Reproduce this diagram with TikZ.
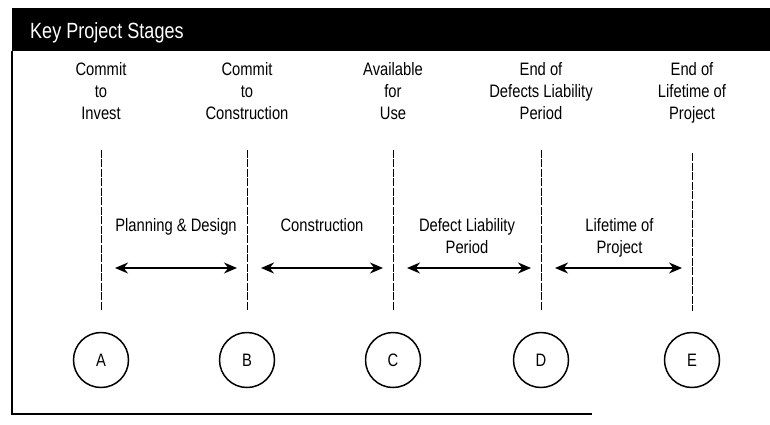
\documentclass[tikz,border=0pt]{standalone}
\usepackage{fontspec}
\setmainfont{Liberation Sans}[FakeStretch=0.82]
\usetikzlibrary{positioning,arrows.meta}

\tikzset{
  stage/.style={circle, draw, line width=1.5pt, minimum size=55pt, inner sep=0pt,
    font=\fontsize{18}{22}\selectfont},
  milestone/.style={align=center, anchor=north, inner sep=0pt,
    font=\fontsize{18}{22}\selectfont},
  spanlabel/.style={align=center, anchor=north, inner sep=0pt,
    font=\fontsize{18}{22}\selectfont},
  marker/.style={line width=1pt, dash pattern=on 8pt off 1.5pt,
    shorten <=30pt, shorten >=21pt},
  span/.style={line width=2pt,
    {Stealth[length=13pt,width=11pt]}-{Stealth[length=13pt,width=11pt]},
    shorten <=14pt, shorten >=10pt},
}

\begin{document}
\begin{tikzpicture}[x=1pt,y=-1pt]
\useasboundingbox (0,0) rectangle (770,424);

\def\xa{101}
\def\xb{247}
\def\xc{393}
\def\xd{541}
\def\xe{692}

\def\ytop{62}
\def\yspan{218}
\def\yarrow{268}
\def\ycirc{360}

\fill[black] (12,8) rectangle (770,51);
\node[anchor=base west, inner sep=0pt, text=white, font=\fontsize{22}{26}\selectfont]
  (title) at (30,38) {Key Project Stages};
\draw[line width=2.2pt] (12,51) -- (12,414) -- (592,414);

\node[stage] (A) at (\xa, \ycirc) {A};
\node[stage] (B) at (\xb, \ycirc) {B};
\node[stage] (C) at (\xc, \ycirc) {C};
\node[stage] (D) at (\xd, \ycirc) {D};
\node[stage] (E) at (\xe, \ycirc) {E};

\node[milestone] (invest) at (\xa, \ytop) {Commit\\to\\Invest};
\node[milestone] (build) at (\xb, \ytop) {Commit\\to\\Construction};
\node[milestone] (use) at (\xc, \ytop) {Available\\for\\Use};
\node[milestone] (defects) at (\xd, \ytop) {End of\\Defects Liability\\Period};
\node[milestone] (lifetime) at (\xe, \ytop) {End of\\Lifetime of\\Project};

\draw[marker] (invest) -- (A);
\draw[marker] (build) -- (B);
\draw[marker] (use) -- (C);
\draw[marker] (defects) -- (D);
\draw[marker] (lifetime) -- (E);

\coordinate (arw) at (0, \yarrow);
\draw[span] (A |- arw) -- (B |- arw);
\draw[span] (B |- arw) -- (C |- arw);
\draw[span] (C |- arw) -- (D |- arw);
\draw[span] (D |- arw) -- (E |- arw);

\node[spanlabel] (planning) at ({(\xa+\xb)/2+2}, \yspan) {Planning \& Design};
\node[spanlabel] (construction) at ({(\xb+\xc)/2+2}, \yspan) {Construction};
\node[spanlabel] (liability) at ({(\xc+\xd)/2}, \yspan) {Defect Liability\\Period};
\node[spanlabel] (life) at ({(\xd+\xe)/2+3}, \yspan) {Lifetime of\\Project};
\end{tikzpicture}
\end{document}
